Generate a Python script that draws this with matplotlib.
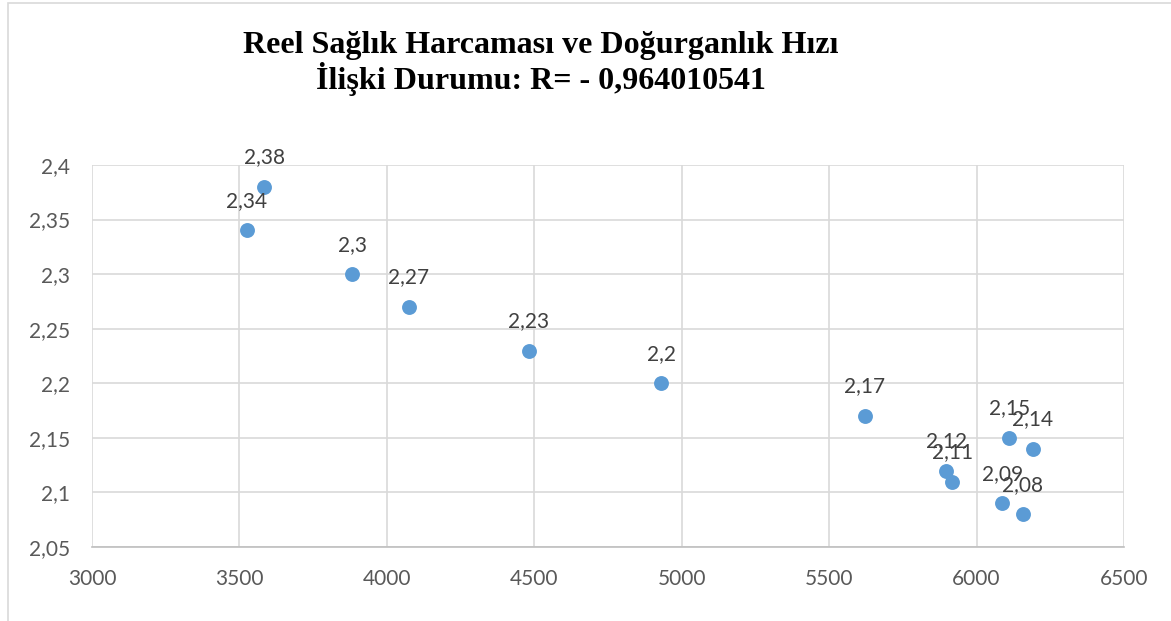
import matplotlib.pyplot as plt
from matplotlib.patches import Rectangle

# veriler: reel sağlık harcaması (x) ve doğurganlık hızı (y)
harcama = [3584, 3525, 3882, 4074, 4481, 4930, 5620, 6111, 6190, 5897, 5918, 6087, 6157]
dogurganlik = [2.38, 2.34, 2.30, 2.27, 2.23, 2.20, 2.17, 2.15, 2.14, 2.12, 2.11, 2.09, 2.08]

x_ticks = [3000, 3500, 4000, 4500, 5000, 5500, 6000, 6500]
y_ticks = [2.05, 2.1, 2.15, 2.2, 2.25, 2.3, 2.35, 2.4]

baslik = "Reel Sağlık Harcaması ve Doğurganlık Hızı\nİlişki Durumu: R= - 0,964010541"


def virgul(v):
    return ("%g" % v).replace(".", ",")


fig = plt.figure(figsize=(11.71, 6.21), dpi=100)
ax = fig.add_axes([92 / 1171, 1 - 547 / 621, (1124 - 92) / 1171, (547 - 165) / 621])

ax.scatter(harcama, dogurganlik, s=115, color="#5B9BD5", zorder=3, linewidths=0)
for xv, yv in zip(harcama, dogurganlik):
    ax.annotate(virgul(yv), (xv, yv), xytext=(0, 14), textcoords="offset points",
                ha="center", va="bottom", fontsize=15, color="#404040", family="Lato")

ax.set_xlim(3000, 6500)
ax.set_ylim(2.05, 2.4)
ax.set_xticks(x_ticks)
ax.set_yticks(y_ticks)
ax.set_xticklabels([str(t) for t in x_ticks])
ax.set_yticklabels([virgul(t) for t in y_ticks])
for lab in ax.get_xticklabels() + ax.get_yticklabels():
    lab.set_family("Lato")
    lab.set_fontsize(15)
    lab.set_color("#595959")
ax.tick_params(length=0, pad=16)
ax.grid(True, color="#D9D9D9", lw=1.2)
ax.set_axisbelow(True)
for s in ["top", "right", "left"]:
    ax.spines[s].set_visible(False)
ax.spines["bottom"].set_color("#BFBFBF")
ax.spines["bottom"].set_linewidth(1.2)

fig.text(541 / 1171, 1 - 31 / 621, baslik, ha="center", va="top", fontsize=23,
         fontweight="bold", family="Liberation Serif", linespacing=1.08)

fig.patches.append(Rectangle((8 / 1171, -0.01), 1.0, 1 - 3 / 621 + 0.01, transform=fig.transFigure,
                             fill=False, edgecolor="#D9D9D9", lw=1.2))

fig.savefig("out.png", dpi=100)
